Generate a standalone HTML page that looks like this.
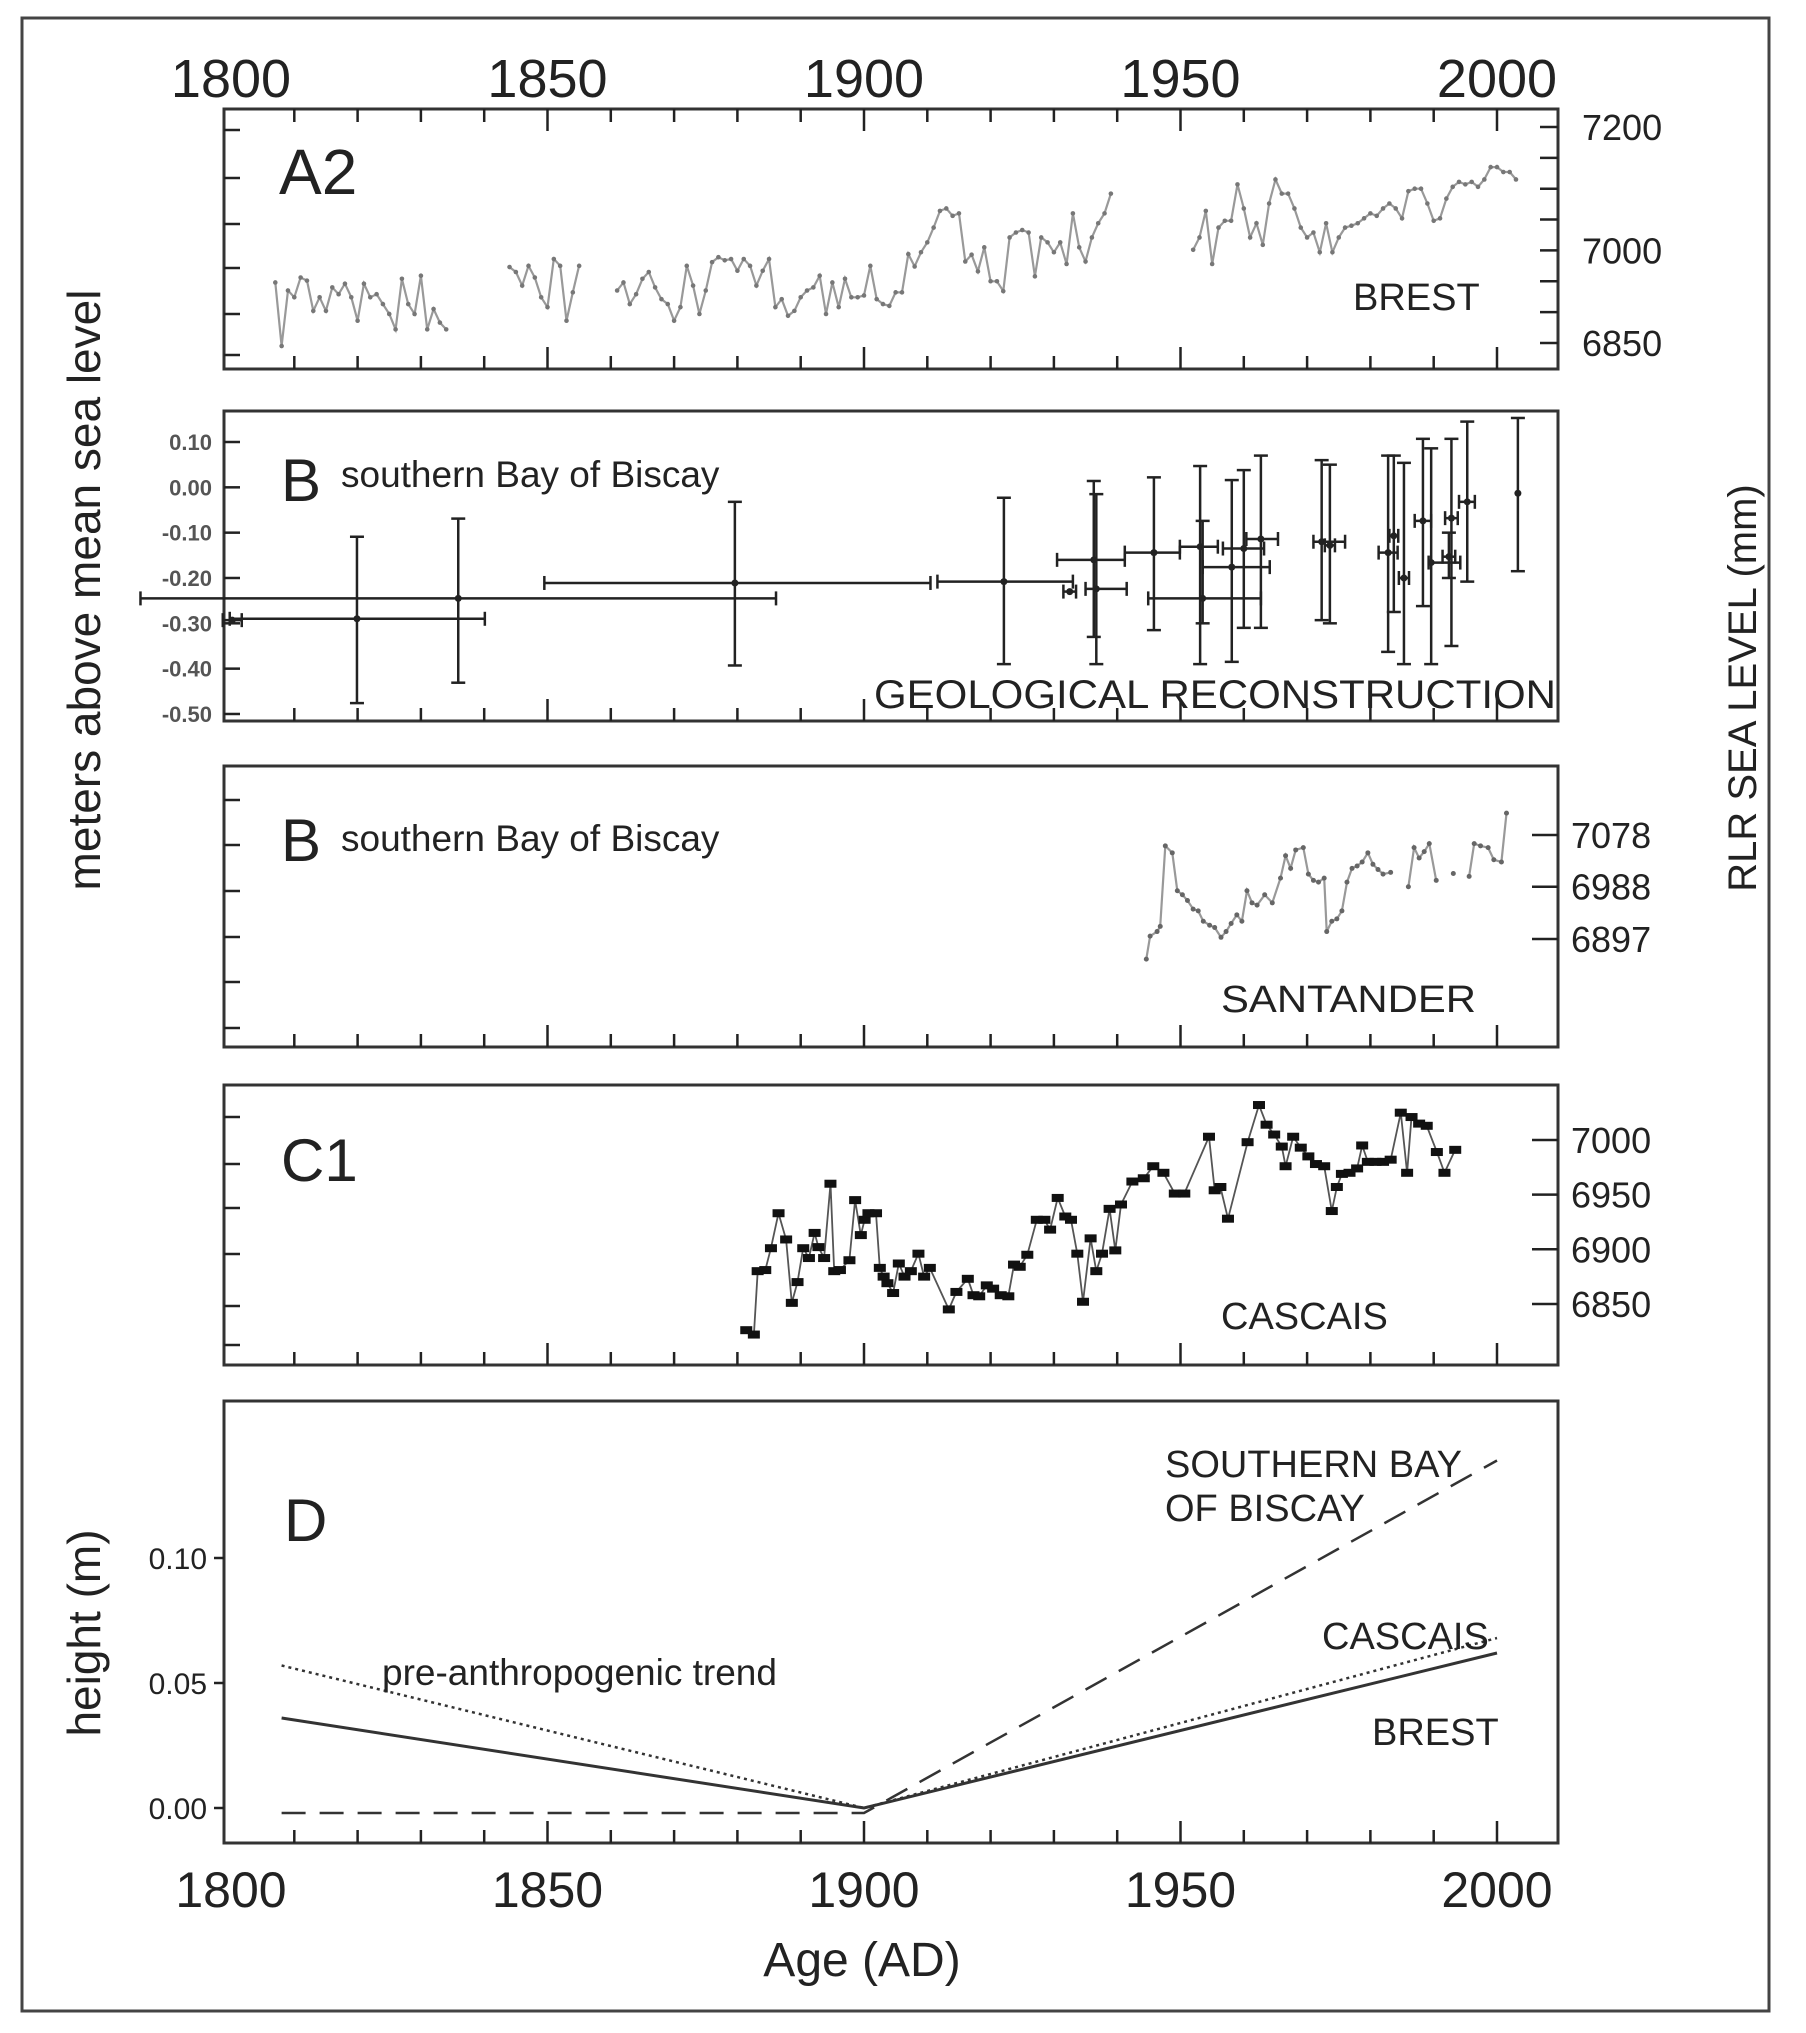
<!DOCTYPE html>
<html><head><meta charset="utf-8"><style>
html,body{margin:0;padding:0;background:#fff;}
svg{display:block;font-family:"Liberation Sans",sans-serif;}
</style></head><body>
<svg id="chart" xmlns="http://www.w3.org/2000/svg" width="1806" height="2033" viewBox="0 0 1806 2033">
<rect x="22" y="18" width="1747" height="1993" fill="#fff" stroke="#444" stroke-width="3"/>
<g id="axes"></g>
<g id="marks"></g>
<g fill="#222">
<text transform="translate(100,590) rotate(-90)" text-anchor="middle" font-size="46">meters above mean sea level</text>
<text transform="translate(1756,688) rotate(-90)" text-anchor="middle" font-size="40">RLR SEA LEVEL (mm)</text>
<text transform="translate(100,1633) rotate(-90)" text-anchor="middle" font-size="46">height (m)</text>
<text x="862" y="1976" text-anchor="middle" font-size="48">Age (AD)</text>
<text x="279" y="194" font-size="64">A2</text>
<text x="1353" y="310" font-size="38">BREST</text>
<text x="281" y="501" font-size="60">B</text>
<text x="341" y="487" font-size="37">southern Bay of Biscay</text>
<text x="874" y="708" font-size="40" textLength="682" lengthAdjust="spacingAndGlyphs">GEOLOGICAL RECONSTRUCTION</text>
<text x="281" y="861" font-size="60">B</text>
<text x="341" y="851" font-size="37">southern Bay of Biscay</text>
<text x="1221" y="1012" font-size="38" textLength="255" lengthAdjust="spacingAndGlyphs">SANTANDER</text>
<text x="281" y="1181" font-size="60">C1</text>
<text x="1221" y="1329" font-size="38">CASCAIS</text>
<text x="284" y="1541" font-size="60">D</text>
<text x="1165" y="1477" font-size="38">SOUTHERN BAY</text>
<text x="1165" y="1521" font-size="38">OF BISCAY</text>
<text x="1322" y="1649" font-size="38">CASCAIS</text>
<text x="1372" y="1745" font-size="38">BREST</text>
<text x="382" y="1685" font-size="37">pre-anthropogenic trend</text>
</g>
</svg>
<script>
// ---------- data ----------
const xTickYears = [1800, 1850, 1900, 1950, 2000];
const brestStarts = [1807, 1844, 1861, 1908, 1952];
const brestSeg1 = [6948,6845,6935,6924,6956,6951,6902,6924,6902,6940,6929,6946,6924,6886,6946,6924,6929,6913,6897,6872,6954,6913,6897,6959,6872,6905,6883,6872];
const brestSeg2 = [6973,6965,6943,6975,6956,6924,6908,6986,6975,6886,6932,6975];
const brestSeg3 = [6935,6948,6913,6929,6954,6965,6940,6921,6913,6886,6908,6975,6943,6897,6935,6981,6989,6984,6986,6967,6986,6975,6943,6967,6986,6908,6921,6894,6902,6924,6935,6940,6959,6897,6948,6908,6954,6924,6924,6927,6975,6921,6913,6910,6932,6932,6994];
const brestSeg4 = [6974,6997,7013,7037,7064,7068,7056,7060,6982,6993,6966,7005,6950,6950,6934,7021,7029,7033,7029,6958,7021,7013,6997,7013,6978,7060,7005,6982,7021,7044,7060,7092];
const brestSeg5 = [7001,7021,7064,6978,7037,7048,7048,7107,7068,7021,7044,7009,7076,7115,7092,7092,7068,7037,7021,7029,6997,7044,6997,7021,7037,7040,7044,7052,7060,7056,7068,7076,7068,7052,7096,7100,7100,7076,7048,7052,7084,7103,7111,7107,7111,7103,7115,7135,7135,7127,7127,7115];
const brestTicks = [7200, 7000, 6850];

const geoYears = [1800.2,1819.9,1835.9,1879.6,1922.1,1932.5,1936.3,1936.7,1945.8,1953.1,1953.5,1958.1,1960,1962.7,1972.3,1973.6,1982.8,1983.7,1985.3,1988.3,1989.6,1992.8,1992.4,1995.3,2003.3];
const geoVals = [-0.293,-0.29,-0.245,-0.211,-0.208,-0.23,-0.16,-0.224,-0.144,-0.131,-0.245,-0.176,-0.135,-0.114,-0.12,-0.128,-0.144,-0.107,-0.2,-0.074,-0.166,-0.068,-0.153,-0.032,-0.013];
const geoXLo = [1798.7,1799.8,1785.7,1849.5,1911.6,1931.5,1930.5,1935,1941.2,1949.9,1944.9,1953.5,1956.7,1960.4,1971,1972.8,1981.3,1983,1984.5,1987,1989.2,1991.8,1991.4,1994,2003.3];
const geoXHi = [1801.7,1840.1,1886.1,1910.5,1933,1933.5,1941.2,1941.5,1949.9,1955.9,1962.7,1964.1,1963.2,1965.4,1976,1974.4,1984.3,1984.4,1986.1,1989.6,1994.2,1993.8,1993.4,1996.5,2003.3];
const geoYHi = [-0.293,-0.109,-0.069,-0.032,-0.023,-0.23,0.014,-0.015,0.022,0.047,-0.074,0.016,0.038,0.07,0.06,0.05,0.07,0.07,0.054,0.107,0.086,0.107,-0.1,0.145,0.153];
const geoYLo = [-0.293,-0.476,-0.431,-0.393,-0.39,-0.23,-0.33,-0.39,-0.315,-0.39,-0.3,-0.385,-0.31,-0.31,-0.293,-0.3,-0.363,-0.275,-0.39,-0.262,-0.39,-0.35,-0.2,-0.208,-0.185];
const geoTicks = [0.10,0.00,-0.10,-0.20,-0.30,-0.40,-0.50];
const geoTickLabels = ["0.10","0.00","-0.10","-0.20","-0.30","-0.40","-0.50"];

const santYears = [1944.6,1945.2,1946.3,1946.8,1947.6,1948.7,1949.5,1950.3,1951.1,1952,1952.8,1953.6,1954.6,1955.4,1956.4,1957.2,1958,1958.9,1959.7,1960.5,1961.3,1962.1,1963.3,1964.5,1965.8,1966.6,1967.4,1968.2,1969.4,1970.2,1971,1971.8,1972.7,1973.1,1973.9,1974.7,1975.5,1976.3,1977.1,1977.9,1978.7,1979.6,1980.4,1981.2,1982,1983.2,1986,1986.9,1987.7,1988.5,1989.3,1990.4,1993.1,1995.6,1996.4,1997.4,1998.6,1999.5,2000.7,2001.5];
const santVals = [6862,6902,6910,6919,7059,7047,6981,6974,6964,6949,6946,6928,6921,6917,6900,6910,6924,6939,6928,6981,6960,6956,6974,6960,7003,7042,7020,7052,7056,7010,6999,6996,7003,6910,6928,6932,6946,6996,7020,7024,7031,7047,7027,7018,7010,7013,6988,7056,7038,7049,7063,6999,7011,7006,7063,7059,7056,7035,7031,7116];
const santTicks = [7078, 6988, 6897];

const cascYears = [1881.4,1882.6,1883.2,1884.4,1885.3,1886.5,1887.7,1888.6,1889.5,1890.4,1891.3,1892.2,1892.8,1893.7,1894.7,1895.3,1896.2,1897.7,1898.6,1899.5,1900.1,1900.7,1901.9,1902.5,1903.1,1903.7,1904.6,1905.5,1906.4,1907.4,1908.6,1909.5,1910.4,1913.4,1914.6,1916.4,1917.3,1918.2,1919.4,1920.4,1921.6,1922.8,1923.7,1924.6,1925.8,1927.3,1928.5,1929.4,1930.6,1931.8,1932.7,1933.7,1934.6,1935.8,1936.7,1937.6,1938.8,1939.7,1940.6,1942.4,1944.2,1945.7,1947.3,1949.1,1950.6,1954.5,1955.4,1956.3,1957.5,1960.6,1962.4,1963.6,1964.8,1966,1966.6,1967.8,1969,1970.2,1971.4,1972.7,1973.9,1974.7,1975.5,1976.7,1977.9,1978.7,1979.6,1980.8,1982,1983.2,1984.8,1985.8,1986.5,1987.7,1988.9,1990.5,1991.7,1993.4];
const cascVals = [6826,6822,6880,6881,6901,6933,6909,6851,6870,6901,6892,6915,6902,6892,6960,6880,6881,6890,6945,6913,6927,6933,6933,6883,6875,6869,6860,6887,6875,6880,6896,6875,6883,6845,6861,6873,6858,6857,6867,6864,6858,6857,6886,6884,6895,6927,6927,6918,6947,6930,6927,6896,6852,6910,6880,6896,6937,6899,6941,6962,6965,6976,6970,6951,6951,7003,6954,6957,6928,6998,7032,7014,7005,6994,6976,7003,6993,6985,6978,6976,6935,6957,6969,6970,6974,6995,6980,6980,6980,6982,7025,6970,7021,7015,7013,6989,6970,6991];
const cascTicks = [7000, 6950, 6900, 6850];

const trendYears = [1808, 1900, 2000];
const trendDotted = [0.057, 0.0, 0.068];
const trendSolid = [0.036, 0.0, 0.062];
const trendDashed = [-0.002, -0.002, 0.139];
const dTicks = [0.10, 0.05, 0.00];
const dTickLabels = ["0.10","0.05","0.00"];

// ---------- scales ----------
const NS = "http://www.w3.org/2000/svg";
const L = 224, R = 1558;
function xS(yr){ return 231 + (yr - 1800) * 6.33; }
function yBrest(v){ return 127 + (7200 - v) * 0.617; }
function yGeo(v){ return 442 + (0.10 - v) * 453.3; }
function ySant(v){ return 835 + (7078 - v) / 1.74; }
function yCasc(v){ return 1140 + (7000 - v) * 1.093; }
function yD(v){ return 1808 - v * 2500; }
const axes = document.getElementById('axes');
const marks = document.getElementById('marks');
function mk(tag, parent){ const e = document.createElementNS(NS, tag); parent.appendChild(e); return e; }
function ln(parent, x1, y1, x2, y2, w, col){
  const e = mk('line', parent);
  e.setAttribute('x1', x1); e.setAttribute('y1', y1); e.setAttribute('x2', x2); e.setAttribute('y2', y2);
  e.setAttribute('stroke', col || '#222'); e.setAttribute('stroke-width', w || 2);
  return e;
}

// ---------- panels ----------
const panels = [
  {name:'brest', top:109, bot:369, topTicks:true},
  {name:'geological', top:411, bot:721, topTicks:false},
  {name:'santander', top:766, bot:1047, topTicks:false},
  {name:'cascais', top:1085, bot:1365, topTicks:false},
  {name:'trend', top:1401, bot:1843, topTicks:false}
];
panels.forEach(p => {
  const r = mk('rect', axes);
  
  
  r.setAttribute('x', L); r.setAttribute('y', p.top); r.setAttribute('width', R - L); r.setAttribute('height', p.bot - p.top);
  r.setAttribute('fill', 'none'); r.setAttribute('stroke', '#333'); r.setAttribute('stroke-width', 3);
  for (let yr = 1810; yr <= 2000; yr += 10) {
    const major = yr % 50 === 0;
    const len = major ? 22 : 13;
    const t = ln(axes, xS(yr), p.bot, xS(yr), p.bot - len, 2.5);
    
    
    if (p.topTicks) {
      const t2 = ln(axes, xS(yr), p.top, xS(yr), p.top + len, 2.5);
      
      
    }
  }
});
xTickYears.forEach(yr => {
  const t = mk('text', axes);
  
  
  t.setAttribute('x', xS(yr)); t.setAttribute('y', 97); t.setAttribute('text-anchor', 'middle');
  t.setAttribute('font-size', 54); t.setAttribute('fill', '#222'); t.textContent = yr;
  const b = mk('text', axes);
  
  
  b.setAttribute('x', xS(yr)); b.setAttribute('y', 1907); b.setAttribute('text-anchor', 'middle');
  b.setAttribute('font-size', 50); b.setAttribute('fill', '#222'); b.textContent = yr;
});
[[130,178,224,268,314,355],[800,845,891,937,982,1028],[1117,1164,1208,1254,1306,1345]].forEach(arr => {
  arr.forEach(y => {
    const t = ln(axes, L, y, L + 16, y, 2.5);
    
    
  });
});
for (let v = 6850; v <= 7200; v += 50) {
  const t = ln(axes, R - 18, yBrest(v), R, yBrest(v), 2.5);
  
  
}
brestTicks.forEach(v => {
  const t = mk('text', axes);
  
  
  t.setAttribute('x', 1582); t.setAttribute('y', yBrest(v) + 13); t.setAttribute('font-size', 36); t.setAttribute('fill', '#222');
  t.textContent = v;
});
geoTicks.forEach((v, i) => {
  const t = ln(axes, L, yGeo(v), L + 16, yGeo(v), 2.5);
  
  
  const s = mk('text', axes);
  
  
  s.setAttribute('x', 212); s.setAttribute('y', yGeo(v) + 8); s.setAttribute('text-anchor', 'end');
  s.setAttribute('font-size', 22); s.setAttribute('font-weight', 'bold'); s.setAttribute('fill', '#555');
  s.textContent = geoTickLabels[i];
});
santTicks.forEach(v => {
  const t = ln(axes, R - 26, ySant(v), R, ySant(v), 2.5);
  
  
  const s = mk('text', axes);
  
  
  s.setAttribute('x', 1571); s.setAttribute('y', ySant(v) + 13); s.setAttribute('font-size', 36); s.setAttribute('fill', '#222');
  s.textContent = v;
});
cascTicks.forEach(v => {
  const t = ln(axes, R - 26, yCasc(v), R, yCasc(v), 2.5);
  
  
  const s = mk('text', axes);
  
  
  s.setAttribute('x', 1571); s.setAttribute('y', yCasc(v) + 13); s.setAttribute('font-size', 36); s.setAttribute('fill', '#222');
  s.textContent = v;
});
dTicks.forEach((v, i) => {
  const t = ln(axes, L - 10, yD(v), L, yD(v), 2.5);
  
  
  const s = mk('text', axes);
  
  
  s.setAttribute('x', 207); s.setAttribute('y', yD(v) + 11); s.setAttribute('text-anchor', 'end');
  s.setAttribute('font-size', 30); s.setAttribute('fill', '#222');
  s.textContent = dTickLabels[i];
});

// ---------- Brest series (segments joined when years are contiguous) ----------
(function(){
  const segs = [brestSeg1, brestSeg2, brestSeg3, brestSeg4, brestSeg5];
  const runs = [];
  let cur = null, lastYr = null;
  segs.forEach((seg, si) => {
    seg.forEach((v, i) => {
      const yr = brestStarts[si] + i;
      if (cur === null || yr - lastYr > 1) { cur = []; runs.push(cur); }
      cur.push([xS(yr), yBrest(v)]);
      lastYr = yr;
    });
  });
  runs.forEach(run => {
    const pl = mk('polyline', marks);
    
    
    pl.setAttribute('points', run.map(p => p[0].toFixed(1) + ',' + p[1].toFixed(1)).join(' '));
    pl.setAttribute('fill', 'none'); pl.setAttribute('stroke', '#999'); pl.setAttribute('stroke-width', 2.2);
    run.forEach(p => {
      const c = mk('circle', marks);
      
      
      c.setAttribute('cx', p[0]); c.setAttribute('cy', p[1]); c.setAttribute('r', 2.3); c.setAttribute('fill', '#777');
    });
  });
})();

// ---------- Geological error bars ----------
geoYears.forEach((yr, i) => {
  const g = mk('g', marks);
  
  
  const cx = xS(yr), cy = yGeo(geoVals[i]);
  const x1 = xS(geoXLo[i]), x2 = xS(geoXHi[i]);
  const y1 = yGeo(geoYHi[i]), y2 = yGeo(geoYLo[i]);
  if (x2 - x1 > 1) {
    ln(g, x1, cy, x2, cy, 2.5);
    ln(g, x1, cy - 7, x1, cy + 7, 2.5);
    ln(g, x2, cy - 7, x2, cy + 7, 2.5);
  }
  if (y2 - y1 > 1) {
    ln(g, cx, y1, cx, y2, 2.5);
    ln(g, cx - 7, y1, cx + 7, y1, 2.5);
    ln(g, cx - 7, y2, cx + 7, y2, 2.5);
  }
  const d = mk('circle', g);
  d.setAttribute('cx', cx); d.setAttribute('cy', cy); d.setAttribute('r', 3.5); d.setAttribute('fill', '#222');
});

// ---------- Santander ----------
(function(){
  let seg = [];
  const segs = [];
  santYears.forEach((yr, i) => {
    if (i > 0 && yr - santYears[i-1] > 2) { segs.push(seg); seg = []; }
    seg.push([xS(yr), ySant(santVals[i])]);
  });
  segs.push(seg);
  segs.forEach(s => {
    const pl = mk('polyline', marks);
    
    
    pl.setAttribute('points', s.map(p => p[0].toFixed(1) + ',' + p[1].toFixed(1)).join(' '));
    pl.setAttribute('fill', 'none'); pl.setAttribute('stroke', '#999'); pl.setAttribute('stroke-width', 2.2);
  });
  santYears.forEach((yr, i) => {
    const c = mk('circle', marks);
    
    
    c.setAttribute('cx', xS(yr)); c.setAttribute('cy', ySant(santVals[i])); c.setAttribute('r', 2.5); c.setAttribute('fill', '#666');
  });
})();

// ---------- Cascais ----------
(function(){
  const pl = mk('polyline', marks);
  
  
  pl.setAttribute('points', cascYears.map((yr, i) => xS(yr).toFixed(1) + ',' + yCasc(cascVals[i]).toFixed(1)).join(' '));
  pl.setAttribute('fill', 'none'); pl.setAttribute('stroke', '#555'); pl.setAttribute('stroke-width', 1.8);
  cascYears.forEach((yr, i) => {
    const r = mk('rect', marks);
    
    
    r.setAttribute('x', xS(yr) - 6); r.setAttribute('y', yCasc(cascVals[i]) - 4);
    r.setAttribute('width', 12); r.setAttribute('height', 8); r.setAttribute('fill', '#111');
  });
})();

// ---------- Trend lines ----------
[[trendDotted, '3,4', 2.5, 'trend-pre-anthropogenic-cascais-line'], [trendSolid, '', 3, 'trend-brest-line'], [trendDashed, '24,14', 2.5, 'trend-bay-of-biscay-line']].forEach(s => {
  const pl = mk('polyline', marks);
  
  
  pl.setAttribute('points', trendYears.map((yr, i) => xS(yr).toFixed(1) + ',' + yD(s[0][i]).toFixed(1)).join(' '));
  pl.setAttribute('fill', 'none'); pl.setAttribute('stroke', '#333'); pl.setAttribute('stroke-width', s[2]);
  if (s[1]) pl.setAttribute('stroke-dasharray', s[1]);
});
</script>
</body></html>
